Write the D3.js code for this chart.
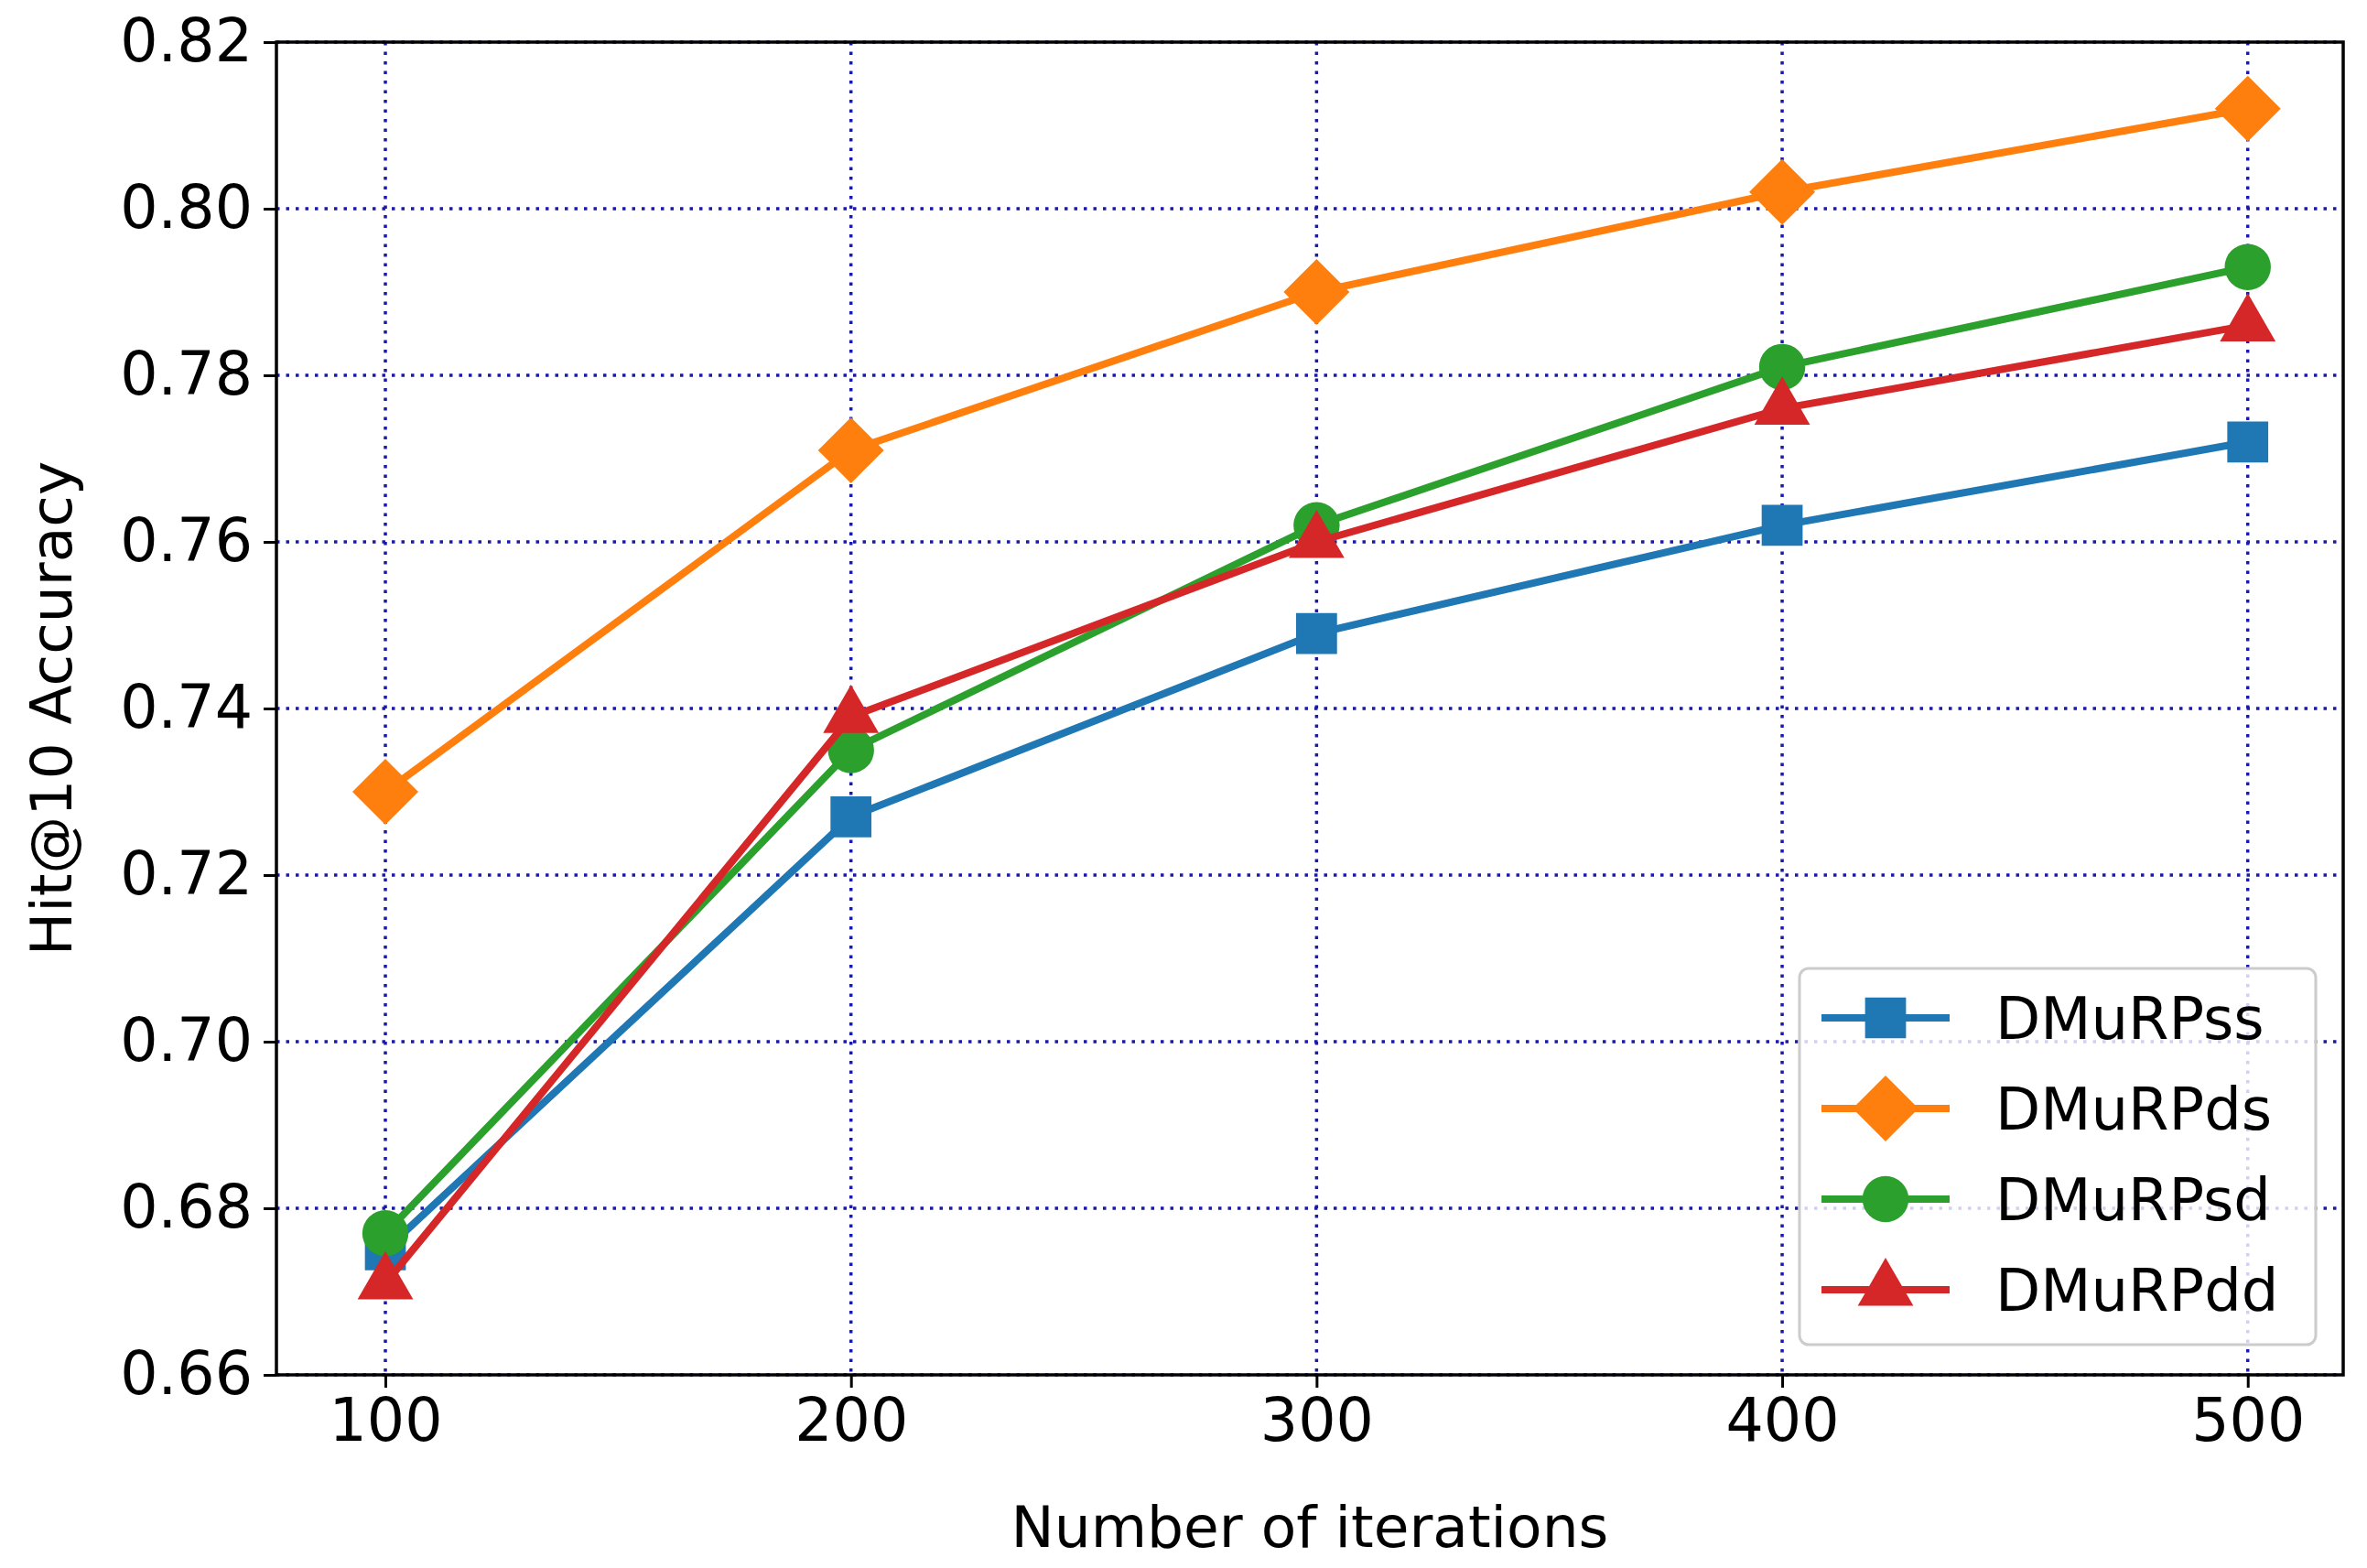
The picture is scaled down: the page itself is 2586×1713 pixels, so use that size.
<!DOCTYPE html>
<html><head><meta charset="utf-8">
<script src="https://cdn.jsdelivr.net/npm/d3@7"></script>
<style>body{margin:0;background:#fff}text{font-family:"DejaVu Sans",sans-serif}</style>
</head><body><svg id="c" width="2586" height="1713"></svg>
<script>
const iterations=[100,200,300,400,500];
const yTicks=[0.66,0.68,0.70,0.72,0.74,0.76,0.78,0.80,0.82];
const names=["DMuRPss","DMuRPds","DMuRPsd","DMuRPdd"];
const colors=["#1f77b4","#ff7f0e","#2ca02c","#d62728"];
const markers=["square","diamond","circle","triangle"];
const ss=[0.675,0.727,0.749,0.762,0.772];
const ds=[0.730,0.771,0.790,0.802,0.812];
const sd=[0.677,0.735,0.762,0.781,0.793];
const dd=[0.671,0.739,0.760,0.776,0.786];
const series=[ss,ds,sd,dd];

const L=302,R=2560,T=46,B=1502;
const svg=d3.select("#c");
const x=d3.scaleLinear().domain([76.6,520.5]).range([L,R]);
const y=d3.scaleLinear().domain([0.66,0.82]).range([B,T]);
svg.append("g").selectAll("line").data(iterations).join("line")
 .attr("x1",d=>x(d)).attr("x2",d=>x(d)).attr("y1",T).attr("y2",B)
 .attr("stroke","#1a1aaa").attr("stroke-width",3.5).attr("stroke-dasharray","3.5,7");
svg.append("g").selectAll("line").data(yTicks).join("line")
 .attr("x1",L).attr("x2",R).attr("y1",d=>y(d)).attr("y2",d=>y(d))
 .attr("stroke","#1a1aaa").attr("stroke-width",3.5).attr("stroke-dasharray","3.5,7");
const xa=svg.append("g").attr("transform",`translate(0,${B})`).call(d3.axisBottom(x).tickValues(iterations).tickSize(14).tickPadding(12));
const ya=svg.append("g").attr("transform",`translate(${L},0)`).call(d3.axisLeft(y).tickValues(yTicks).tickFormat(d3.format(".2f")).tickSize(14).tickPadding(12));
[xa,ya].forEach(a=>{a.select(".domain").remove();a.selectAll("line").attr("stroke","#000").attr("stroke-width",3);a.selectAll("text").attr("font-size",65).attr("fill","#000").attr("font-family","DejaVu Sans");});
svg.append("rect").attr("x",L).attr("y",T).attr("width",R-L).attr("height",B-T).attr("fill","none").attr("stroke","#000").attr("stroke-width",3.5);
svg.append("text").attr("x",(L+R)/2).attr("y",1690).attr("text-anchor","middle").attr("font-size",63).text("Number of iterations");
svg.append("text").attr("transform",`translate(78,${(T+B)/2}) rotate(-90)`).attr("text-anchor","middle").attr("font-size",63).text("Hit@10 Accuracy");
function sym(m){
 if(m==="diamond") return "M0,-36L36,0L0,36L-36,0Z";
 const t={square:d3.symbolSquare,circle:d3.symbolCircle,triangle:d3.symbolTriangle}[m];
 const s={square:2000,circle:2000,triangle:1600}[m];return d3.symbol(t,s)();}
const line=d3.line().x((d,i)=>x(iterations[i])).y(d=>y(d));
series.forEach((s,k)=>{
 svg.append("path").attr("d",line(s)).attr("fill","none").attr("stroke",colors[k]).attr("stroke-width",8);
 svg.append("g").selectAll("path").data(s).join("path").attr("d",sym(markers[k]))
  .attr("transform",(d,i)=>`translate(${x(iterations[i])},${y(d)})`).attr("fill",colors[k]);
});
const lg=svg.append("g");
lg.append("rect").attr("x",1966).attr("y",1058).attr("width",564).attr("height",411).attr("rx",10).attr("fill","#fff").attr("fill-opacity",0.8).attr("stroke","#ccc").attr("stroke-width",3);
names.forEach((n,k)=>{const yy=1112+k*99;
 lg.append("line").attr("x1",1990).attr("x2",2130).attr("y1",yy).attr("y2",yy).attr("stroke",colors[k]).attr("stroke-width",8);
 lg.append("path").attr("d",sym(markers[k])).attr("transform",`translate(2060,${yy})`).attr("fill",colors[k]);
 lg.append("text").attr("x",2180).attr("y",yy+23).attr("font-size",64).text(n);
});
</script></body></html>
